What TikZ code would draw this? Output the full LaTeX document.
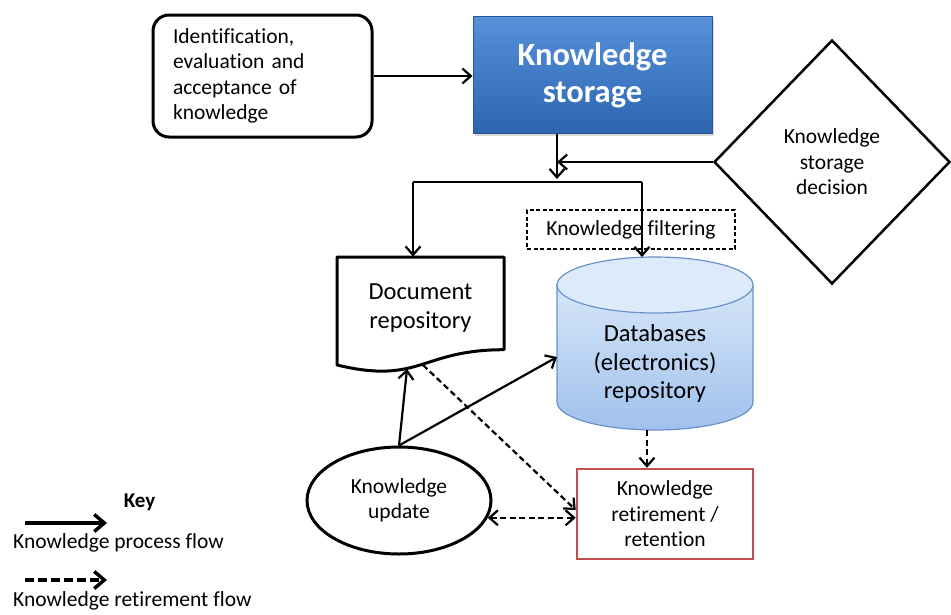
\documentclass[tikz,border=0pt]{standalone}
\usepackage{fontspec}
\setmainfont{Carlito}[Ligatures=CommonOff]
\usetikzlibrary{arrows.meta,shapes.geometric,shadows,calc}

\definecolor{ksTop}{RGB}{86,145,218}
\definecolor{ksBot}{RGB}{44,100,176}
\definecolor{ksEdge}{RGB}{40,86,150}
\definecolor{dbTop}{RGB}{214,230,248}
\definecolor{dbBot}{RGB}{160,193,237}
\definecolor{dbCap}{RGB}{221,234,249}
\definecolor{dbEdge}{RGB}{105,145,202}
\definecolor{retRed}{RGB}{192,80,77}

\tikzset{
  bigtxt/.style={font=\fontsize{24.5}{28.5}\selectfont},
  smalltxt/.style={font=\fontsize{21.5}{25.5}\selectfont},
  conn/.style={line width=2.2pt},
  endtip/.style={-{Straight Barb[length=8.5pt,width=15pt]}},
  bothtips/.style={{Straight Barb[length=8.5pt,width=15pt]}-{Straight Barb[length=8.5pt,width=15pt]}},
  retire/.style={line width=2.2pt, dash pattern=on 6pt off 3.5pt},
  anchorbox/.style={inner sep=0pt, outer sep=0pt},
}

\begin{document}
\begin{tikzpicture}[x=1pt,y=-1pt]
\useasboundingbox (0,0) rectangle (951,614);

% ---- shapes ----
\node[draw, rounded corners=16pt, line width=3pt, fill=white,
      minimum width=219, minimum height=122, text width=179, inner xsep=20pt,
      align=left, smalltxt] (idbox) at (262.5,76)
  {Identification,\\evaluation and\\acceptance of\\knowledge};

\node[top color=ksTop, bottom color=ksBot, draw=ksEdge, line width=1pt,
      drop shadow={shadow xshift=2pt, shadow yshift=-2pt, opacity=0.3},
      minimum width=239, minimum height=117, align=center, text=white,
      font=\fontsize{32.5}{37}\selectfont\bfseries] (ks) at (592.5,75)
  {Knowledge\\storage};

\node[diamond, draw, line width=2.5pt, fill=white, minimum width=236,
      minimum height=244, inner sep=0pt, align=center, smalltxt] (dec) at (832,162)
  {Knowledge\\storage\\decision};

\node[draw, line width=1.2pt, dash pattern=on 4pt off 2.5pt,
      minimum width=208, minimum height=39, smalltxt] (filt) at (631,229.5)
  {Knowledge filtering};

% document sheet with wavy lower edge
\draw[line width=3pt, fill=white, line join=round]
  (337,257) -- (504,257) -- (504,349.7)
  .. controls (420.5,349.7) and (420.5,385) .. (337,365) -- cycle;
\node[anchorbox, minimum width=167, minimum height=103, align=center, bigtxt]
  (doc) at (420.5,308) {Document\\repository};

% database cylinder
\path[top color=dbTop, bottom color=dbBot, draw=dbEdge, line width=1.2pt]
  (557,285) -- (557,402)
  .. controls (557,417.5) and (600.9,430) .. (655,430)
  .. controls (709.1,430) and (753,417.5) .. (753,402)
  -- (753,285) -- cycle;
\draw[fill=dbCap, draw=dbEdge, line width=1.2pt]
  (655,285) ellipse [x radius=98, y radius=28];
\node[anchorbox, minimum width=196, minimum height=173] (db) at (655,343.5) {};
\node[align=center, bigtxt] (dbtxt) at (655,363.5)
  {Databases\\(electronics)\\repository};

\node[ellipse, draw, line width=3pt, fill=white, minimum width=184,
      minimum height=107, inner sep=0pt, align=center, smalltxt] (upd) at (399,500.5)
  {Knowledge\\update};

\node[draw=retRed, line width=2.5pt, fill=white, minimum width=176,
      minimum height=90, align=center, smalltxt] (ret) at (665,514)
  {Knowledge\\retirement /\\retention};

% ---- junction points of the distribution line ----
\coordinate (j)  at (557,182);
\coordinate (jl) at (413,182);
\coordinate (jr) at (642,182);
\coordinate (docin)  at (407,369);
\coordinate (docout) at (423,365);

% ---- process flow ----
\draw[conn, endtip] (idbox.east) -- (idbox.east -| ks.west);
\draw[conn, endtip] (ks.south -| j) -- ([yshift=3pt]j);
\draw[conn, endtip] (dec.west) -- (dec.west -| j);
\draw[conn] (jl) -- (jr);
\draw[conn, endtip] (jl) -- (jl |- doc.north);
\draw[conn, endtip] (jr) -- (jr |- db.north);
\draw[conn, endtip] (upd.north) -- (docin);
\draw[conn, endtip] (upd.north) -- ([yshift=-13.5pt]db.west);

% ---- retirement flow ----
\draw[retire, endtip] (docout) -- ([yshift=4pt]ret.west);
\draw[retire, endtip] ([xshift=-8pt]db.south) -- ([xshift=-8pt]db.south |- ret.north);
\draw[retire, bothtips] (upd.-11) -- (upd.-11 -| ret.west);

% ---- key ----
\node[anchor=base, font=\fontsize{21}{25}\selectfont\bfseries] (key) at (139.5,507) {Key};
\coordinate (k1a) at (25,523);  \coordinate (k1b) at (107,523);
\coordinate (k2a) at (25,580);  \coordinate (k2b) at (107,580);
\draw[line width=3.5pt, -{Straight Barb[length=10pt,width=17pt]}] (k1a) -- (k1b);
\node[anchor=base west, inner sep=0pt, smalltxt] (kproc) at (13,548) {Knowledge process flow};
\draw[line width=3.5pt, dash pattern=on 9pt off 4pt, -{Straight Barb[length=10pt,width=17pt]}] (k2a) -- (k2b);
\node[anchor=base west, inner sep=0pt, smalltxt] (kret) at (13,606) {Knowledge retirement flow};
\end{tikzpicture}
\end{document}
